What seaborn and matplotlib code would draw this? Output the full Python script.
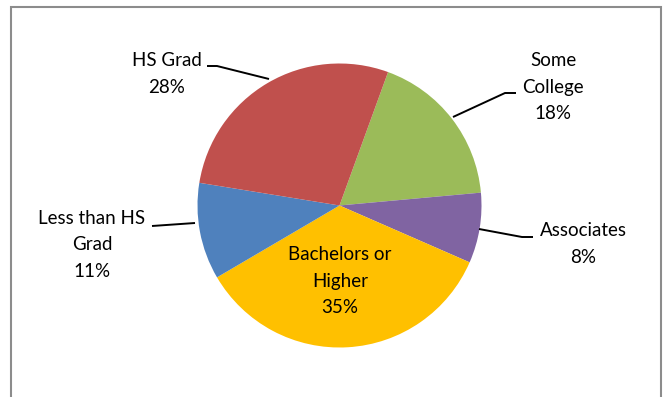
import matplotlib
matplotlib.use("Agg")
import matplotlib.pyplot as plt
from matplotlib.patches import Rectangle
import seaborn as sns

# Educational attainment shares (%), listed clockwise from the first wedge
categories = ["Some College", "Associates", "Bachelors or Higher", "Less than HS Grad", "HS Grad"]
shares = [18, 8, 35, 11, 28]
wedge_colors = ["#9BBB59", "#8064A2", "#FFC000", "#4F81BD", "#C0504D"]

# Label text (with line breaks) and where each label sits, in pixel units
label_lines = ["Some\nCollege", "Associates", "Bachelors or\nHigher", "Less than HS\nGrad", "HS Grad"]
label_pos = [(553, 87), (583, 244), (340, 281), (92, 245), (167, 74)]

# Leader lines connecting outside labels to their wedges (pixel units, y from top)
leaders = {
    "Some College": [(453, 117), (505, 93), (516, 93)],
    "Associates": [(479, 229), (522, 237), (533, 237)],
    "Less than HS Grad": [(195, 223), (152, 226)],
    "HS Grad": [(269, 79), (217, 66), (207, 66)],
}

sns.set_theme(style="white")
plt.rcParams["font.family"] = ["Lato", "DejaVu Sans"]

W, H = 668, 397
fig = plt.figure(figsize=(W / 100, H / 100), dpi=100)
ax = fig.add_axes([0, 0, 1, 1])

palette = sns.color_palette(wedge_colors)
cx, cy, r = 339.5, H - 205.5, 142
ax.pie(shares, colors=palette, startangle=70, counterclock=False,
       center=(cx, cy), radius=r, frame=True,
       wedgeprops=dict(linewidth=0))
ax.set_xlim(0, W)
ax.set_ylim(0, H)
ax.set_aspect("equal")
ax.axis("off")

for cat, text, (x, y), val in zip(categories, label_lines, label_pos, shares):
    ax.text(x, H - y, f"{text}\n{val}%", ha="center", va="center",
            fontsize=13.5, color="black", linespacing=1.68)

for pts in leaders.values():
    xs = [p[0] for p in pts]
    ys = [H - p[1] for p in pts]
    ax.plot(xs, ys, color="black", lw=1.4, solid_capstyle="butt")

# Chart-area border
ax.add_patch(Rectangle((11, -10), 650, H - 7 + 10, fill=False,
                       edgecolor="#8C8C8C", lw=1.5, clip_on=False))

fig.savefig("out.png", dpi=100)
